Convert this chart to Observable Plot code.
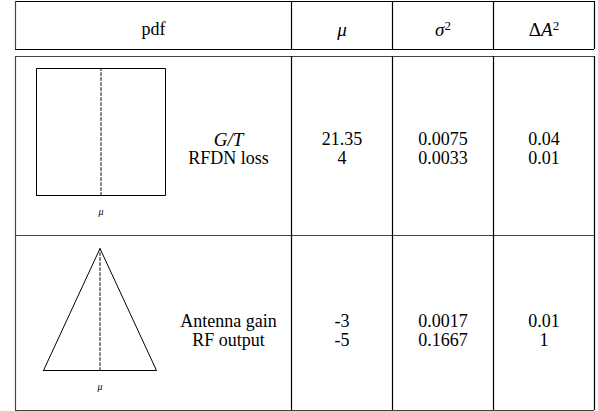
<!DOCTYPE html>
<html>
<head>
<meta charset="utf-8">
<script src="https://cdn.jsdelivr.net/npm/d3@7"></script>
<script src="https://cdn.jsdelivr.net/npm/@observablehq/plot@0.6"></script>
<style>
  html, body { margin: 0; padding: 0; background: #fff; }
  #chart svg { display: block; }
</style>
</head>
<body>
<div id="chart"></div>
<script>
// ---- data (content only) ----
const columns = ["pdf", "μ", "σ2", "ΔA2"];
const pdfShapes = ["uniform", "triangular"];
const rowLabels = [["G/T", "RFDN loss"], ["Antenna gain", "RF output"]];
const muValues = [["21.35", "4"], ["-3", "-5"]];
const sigma2Values = [["0.0075", "0.0033"], ["0.0017", "0.1667"]];
const deltaA2Values = [["0.04", "0.01"], ["0.01", "1"]];
const uniformPdf = [[-1, 0], [-1, 1], [1, 1], [1, 0], [-1, 0]];
const triangularPdf = [[-1, 0], [0, 1], [1, 0], [-1, 0]];
const meanMarker = [[0, 0], [0, 1]];

// ---- layout ----
const W = 598, H = 411;
const colEdges = [15, 291, 392, 493, 594];
const hTop = 1, hBot = 49, hBot2 = 56, rowSep = 235, tBottom = 410;
const colCenter = c => (colEdges[c] + colEdges[c + 1]) / 2;
const labelX = 228;
const textY = [[139, 158], [321, 340]];
const shapeBox = [
  {cx: 100.5, hw: 64.5, base: 195, h: 127},
  {cx: 99.5, hw: 56.5, base: 370, h: 122}
];
const shapeData = {uniform: uniformPdf, triangular: triangularPdf};
const FS = 18;
const font = "'Liberation Serif', 'Times New Roman', serif";

// table rules
const hRules = [
  {x1: colEdges[0], x2: colEdges[4], y: hTop, s: "#000"},
  {x1: colEdges[0], x2: colEdges[4], y: hBot, s: "#000"},
  {x1: colEdges[0], x2: colEdges[4], y: hBot2, s: "#444"},
  {x1: colEdges[0], x2: colEdges[4], y: rowSep, s: "#444"},
  {x1: colEdges[0], x2: colEdges[4], y: tBottom, s: "#444"}
];
const vRules = [];
colEdges.forEach((x, i) => {
  vRules.push({x, y1: hTop, y2: hBot, s: i === 0 ? "#444" : "#000"});
  vRules.push({x, y1: hBot2, y2: tBottom, s: i === 0 ? "#444" : "#000"});
});

// shapes in pixel space
const shapeLines = [], dashLines = [], muLabels = [];
pdfShapes.forEach((name, r) => {
  const b = shapeBox[r];
  shapeData[name].forEach(([u, p]) => shapeLines.push({r, x: b.cx + u * b.hw, y: b.base - p * b.h}));
  meanMarker.forEach(([u, p]) => dashLines.push({r, x: b.cx + u * b.hw, y: b.base - p * b.h}));
  muLabels.push({x: b.cx, y: b.base + 16, t: columns[1]});
});

// cell texts
const cellTexts = [];
const headerTexts = columns.map((t, c) => ({x: colCenter(c), y: 29, t, c}));
rowLabels.forEach((lines, r) => lines.forEach((t, i) => cellTexts.push({x: labelX, y: textY[r][i], t, italic: r === 0 && i === 0})));
[muValues, sigma2Values, deltaA2Values].forEach((vals, k) => {
  vals.forEach((lines, r) => lines.forEach((t, i) => cellTexts.push({x: colCenter(k + 1), y: textY[r][i], t, italic: false})));
});

const plot = Plot.plot({
  width: W, height: H,
  margin: 0,
  x: {type: "linear", domain: [0, W], range: [0, W], axis: null},
  y: {type: "linear", domain: [0, H], range: [0, H], axis: null},
  style: {fontFamily: font, background: "#fff"},
  marks: [
    Plot.ruleY(hRules, {x1: "x1", x2: "x2", y: "y", stroke: d => d.s, strokeWidth: 1.2}),
    Plot.ruleX(vRules, {x: "x", y1: "y1", y2: "y2", stroke: d => d.s, strokeWidth: 1.2}),
    Plot.line(shapeLines, {x: "x", y: "y", z: "r", stroke: "#000", strokeWidth: 1}),
    Plot.line(dashLines, {x: "x", y: "y", z: "r", stroke: "#222", strokeWidth: 1.1, strokeDasharray: "3,2"}),
    Plot.text(muLabels, {x: "x", y: "y", text: "t", fontSize: 10, fontStyle: "italic", fill: "#000"}),
    Plot.text(headerTexts.filter(d => d.c === 0), {x: "x", y: "y", text: "t", fontSize: FS, fill: "#000"}),
    Plot.text(headerTexts.filter(d => d.c > 0), {x: "x", y: "y", text: "t", fontSize: FS + 1, fontStyle: "italic", fill: "#000"}),
    Plot.text(cellTexts.filter(d => !d.italic), {x: "x", y: "y", text: "t", fontSize: FS, fill: "#000"}),
    Plot.text(cellTexts.filter(d => d.italic), {x: "x", y: "y", text: "t", fontSize: FS + 1, fontStyle: "italic", fill: "#000"})
  ]
});
document.getElementById("chart").append(plot);

// math-style headers: upright Δ, raised superscript 2
const NS = "http://www.w3.org/2000/svg";
function span(txt, attrs) {
  const s = document.createElementNS(NS, "tspan");
  s.textContent = txt;
  for (const k in attrs) s.setAttribute(k, attrs[k]);
  return s;
}
plot.querySelectorAll("text").forEach(t => {
  const c = t.textContent;
  if (c === "σ2" || c === "ΔA2") {
    t.textContent = "";
    if (c === "ΔA2") {
      t.append(span("Δ", {"font-style": "normal"}), span("A", {}));
    } else {
      t.append(span("σ", {}));
    }
    t.append(span("2", {"font-style": "normal", "font-size": "13", "baseline-shift": "45%"}));
  }
});
</script>
</body>
</html>
